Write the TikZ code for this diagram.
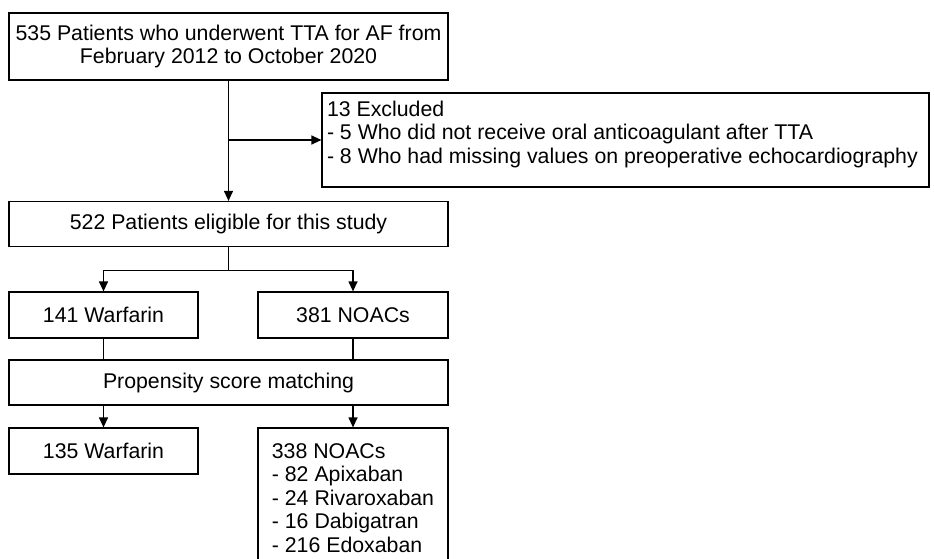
\documentclass[tikz,border=0pt]{standalone}
\usepackage{fontspec}
\setmainfont{Liberation Sans}
\usetikzlibrary{arrows.meta}
\begin{document}
\begin{tikzpicture}[x=1pt,y=-1pt,
  box/.style={draw, line width=1.2pt, rectangle, inner sep=0pt, font=\fontsize{21.3}{23.5}\selectfont, align=center},
  arr/.style={-{Triangle[length=10pt,width=9pt]}, line width=1.2pt},
  ln/.style={line width=1.2pt}]
\useasboundingbox (0,0) rectangle (934,559);
\clip (0,0) rectangle (934,559);
\node[box, minimum width=439pt, minimum height=67pt] (start) at (228.5,46.5)
  {535 Patients who underwent TTA for AF from\\February 2012 to October 2020};
\node[draw, line width=1.2pt, rectangle, inner sep=0pt, font=\fontsize{21.3}{23.5}\selectfont, minimum width=607pt, minimum height=94pt] (excl) at (625.5,140)
  {\parbox[c]{597pt}{\raggedright 13 Excluded\\- 5 Who did not receive oral anticoagulant after TTA\\- 8 Who had missing values on preoperative echocardiography\par\vspace{12pt}}};
\node[box, minimum width=439pt, minimum height=45pt] (elig) at (228.5,224) {522 Patients eligible for this study};
\node[box, minimum width=189pt, minimum height=46pt] (w1) at (103.5,315) {141 Warfarin};
\node[box, minimum width=190pt, minimum height=46pt] (n1) at (353,315) {381 NOACs};
\node[box, minimum width=439pt, minimum height=45pt] (psm) at (228.5,382.5) {Propensity score matching};
\node[box, minimum width=189pt, minimum height=46pt] (w2) at (103.5,451) {135 Warfarin};
\node[box, minimum width=190pt, minimum height=140pt, align=left] (n2) at (353,498)
  {338 NOACs\\- 82 Apixaban\\- 24 Rivaroxaban\\- 16 Dabigatran\\- 216 Edoxaban};
\draw[arr] (start.south) -- (elig.north);
\draw[arr] (start.south |- excl.west) -- (excl.west);
\path (elig.south) ++(0,23) coordinate (j2);
\draw[ln] (elig.south) -- (j2);
\draw[arr] (j2) -| (w1.north);
\draw[arr] (j2) -| (n1.north);
\draw[ln] (w1.south) -- (w1.south |- psm.north);
\draw[ln] (n1.south) -- (n1.south |- psm.north);
\draw[arr] (psm.south -| w2.north) -- (w2.north);
\draw[arr] (psm.south -| n2.north) -- (n2.north);
\end{tikzpicture}
\end{document}
